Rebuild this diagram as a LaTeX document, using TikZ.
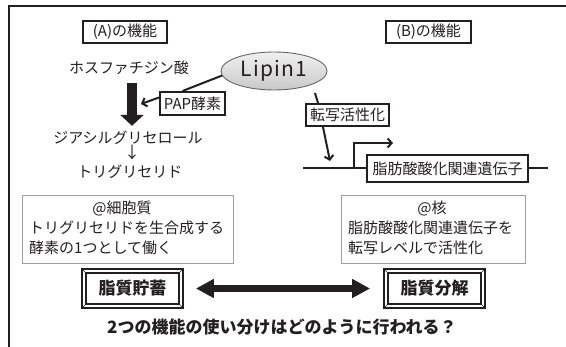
\documentclass[tikz,border=0pt]{standalone}
\usepackage{fontspec}
\setmainfont{Noto Sans CJK JP}
\usetikzlibrary{arrows.meta,shapes.geometric}
\definecolor{ink}{HTML}{231F20}
\begin{document}
\begin{tikzpicture}[x=1pt,y=-1pt,
  lbl/.style={font=\fontsize{15}{18}\selectfont, inner sep=0pt, text height=11pt, text depth=4pt, text=ink},
  tagbox/.style={draw=ink, line width=2pt, font=\fontsize{15}{18}\selectfont, inner sep=0pt, text=ink},
  infobox/.style={draw=gray!75, line width=0.9pt},
  btn/.style={draw=ink, line width=1.8pt, fill=white, font=\bfseries\fontsize{17}{20}\selectfont, inner sep=0pt, minimum width=101pt, minimum height=39pt, text=ink},
  conn/.style={draw=ink, line width=2pt},
  barb/.style={conn, -{Straight Barb[length=4pt,width=9pt,line width=2pt]}}
]
\useasboundingbox (0,0) rectangle (566,347);
% frame
\draw[ink, line width=2pt] (8.5,347) -- (8.5,6) -- (566,6);

% title boxes
\node[tagbox, minimum width=84pt, minimum height=22pt] (ta) at (125,32) {(A)の機能};
\node[tagbox, minimum width=85pt, minimum height=22pt] (tb) at (428.5,32) {(B)の機能};

% Lipin1
\node[ellipse, draw=gray!80!black, line width=0.9pt, top color=gray!12, bottom color=gray!42,
      minimum width=106pt, minimum height=38pt, inner sep=0pt,
      font=\fontsize{21}{24}\selectfont\addfontfeature{LetterSpace=6}, text=ink] (lip) at (274,71) {Lipin1};

% left pathway
\node[lbl] (pa) at (129,70) {ホスファチジン酸};
\node[lbl] (dag) at (128,140) {ジアシルグリセロール};
\node[lbl, font=\fontsize{16}{18}\selectfont\addfontfeature{}] (dn) at (132,155) {↓};
\node[lbl] (tg) at (130,174) {トリグリセリド};
\draw[ink, line width=10pt, -{Triangle[length=11pt,width=23pt]}, shorten <=5.5pt, shorten >=6.5pt]
  ([xshift=3pt]pa.south) -- ([xshift=4pt]dag.north);
\node[tagbox, minimum width=65pt, minimum height=23pt] (pap) at (192.5,103.5) {PAP酵素};
\coordinate (papT) at (141,104);
\draw[barb] ([yshift=6pt]pap.west) -- (papT);
\draw[conn] (lip.185) -- ([xshift=-10pt]pap.north);

% right pathway
\node[tagbox, minimum width=83pt, minimum height=22pt] (ten) at (347.5,115) {転写活性化};
\coordinate (lipB) at (315,93);
\draw[conn] (lipB) -- ([xshift=-29.5pt]ten.north);
\node[tagbox, minimum width=161pt, minimum height=27pt] (gene) at (447.5,168.5) {脂肪酸酸化関連遺伝子};
\coordinate (dnaL) at (303,168.5);
\coordinate (dnaR) at (548,168.5);
\coordinate (prom) at (354,168.5);
\coordinate (promE) at (393,143);
\coordinate (tenT) at (330,161);
\draw[conn] (dnaL) -- (gene.west);
\draw[conn] (gene.east) -- (dnaR);
\draw[barb] (prom) |- (promE);
\draw[barb] ([xshift=-24.5pt]ten.south) -- (tenT);

% info boxes
\node[infobox, minimum width=211pt, minimum height=68pt, inner sep=0pt] (ia) at (127.5,229) {};
\node[lbl] (ia1) at (122,210) {@細胞質};
\node[lbl, anchor=west] (ia2) at (29,230) {トリグリセリドを生合成する};
\node[lbl, anchor=west] (ia3) at (29,250) {酵素の1つとして働く};

\node[infobox, minimum width=184pt, minimum height=68pt, inner sep=0pt] (ib) at (433,229) {};
\node[lbl] (ib1) at (432,210) {@核};
\node[lbl, anchor=west] (ib2) at (348,230) {脂肪酸酸化関連遺伝子を};
\node[lbl, anchor=west] (ib3) at (348,250) {転写レベルで活性化};

% buttons
\node[btn] (st) at (132.5,288.5) {脂質貯蓄};
\node[btn] (dc) at (434.5,288.5) {脂質分解};
\foreach \b in {st,dc}{
  \draw[ink, line width=1.3pt] ([shift={(5pt,-5pt)}]\b.north west) rectangle ([shift={(-5pt,5pt)}]\b.south east);
  \draw[ink, line width=0.7pt] (\b.north west) -- ++(5pt,-5pt);
  \draw[ink, line width=0.7pt] (\b.north east) -- ++(-5pt,-5pt);
  \draw[ink, line width=0.7pt] (\b.south west) -- ++(5pt,5pt);
  \draw[ink, line width=0.7pt] (\b.south east) -- ++(-5pt,5pt);
}
\draw[ink, line width=7pt, {Triangle[length=18pt,width=18pt]}-{Triangle[length=18pt,width=18pt]},
  shorten <=12pt, shorten >=13pt] (st.east) -- (dc.west);

% question
\node[font=\bfseries\fontsize{17}{20}\selectfont, inner sep=0pt, text=ink] (q) at (282,327) {2つの機能の使い分けはどのように行われる？};
\end{tikzpicture}
\end{document}
